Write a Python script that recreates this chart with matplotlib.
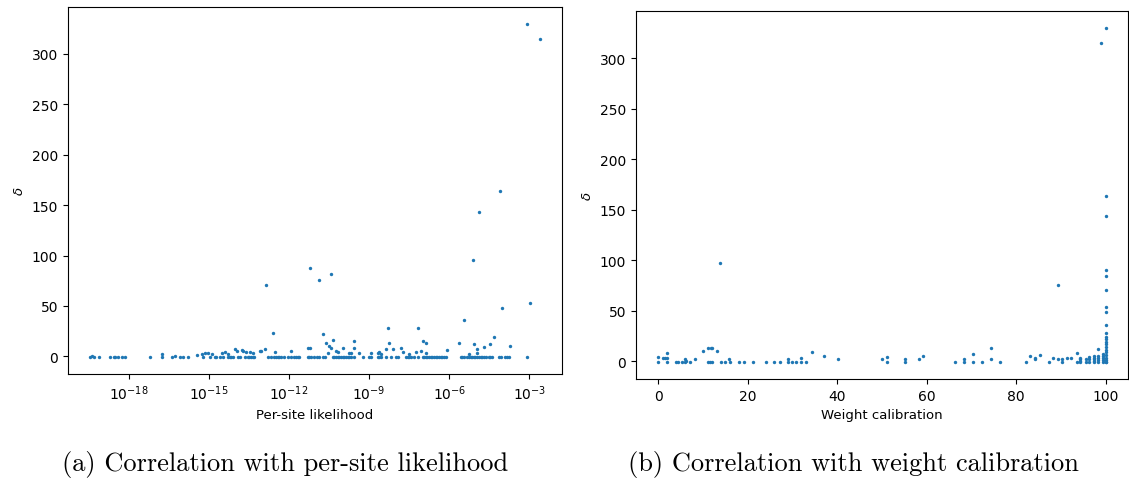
import numpy as np
import matplotlib
matplotlib.use("Agg")
import matplotlib.pyplot as plt

# ---------------- data ----------------
BASE = -1.0  # delta value of the points lying on the zero line

# (a) log10 per-site likelihood of points on the zero line
a_zero_loglik = [-19.44, -19.32, -19.13, -18.70, -18.57, -18.51, -18.39, -18.26, -18.14,
                 -17.2, -16.77, -16.4, -16.09, -15.96, -15.77, -15.21, -14.96, -14.78,
                 -14.72, -14.59, -14.47, -14.28, -14.22, -14.16, -14.09, -13.91, -13.85,
                 -13.66, -13.55, -13.49, -13.43, -13.36, -13.3, -12.8, -12.68, -12.55,
                 -12.5, -12.43, -12.37, -12.3, -12.18, -12.05, -11.93, -11.8, -11.74,
                 -11.68, -11.62, -11.31, -11.25, -11.18, -11.06, -10.94, -10.87, -10.74,
                 -10.67, -10.36, -10.30, -10.24, -10.18, -10.12, -10.05, -9.99, -9.93,
                 -9.87, -9.8, -9.74, -9.68, -9.56, -9.24, -8.99, -8.93, -8.68, -8.62,
                 -8.56, -8.37, -8.19, -8.0, -7.94, -7.63, -7.56, -7.5, -7.44, -7.32,
                 -7.19, -7.0, -6.94, -6.88, -6.82, -6.76, -6.70, -6.63, -6.57, -6.51,
                 -6.45, -6.38, -6.32, -6.26, -6.2, -6.13, -5.57, -5.51, -5.45, -5.33,
                 -5.26, -5.2, -5.14, -5.08, -5.02, -4.95, -4.89, -4.83, -4.77, -4.7,
                 -4.64, -4.52, -4.46, -4.39, -4.15, -4.08, -3.9, -3.83, -3.77, -3.09]

# (a) remaining points: log10 per-site likelihood and delta
a_loglik = [-19.38, -16.77, -16.27, -15.46, -15.28, -15.15, -15.03, -14.9, -14.53, -14.4,
            -14.28, -14.03, -13.97, -13.78, -13.72, -13.6, -13.47, -13.35, -13.1, -13.04,
            -12.91, -12.86, -12.6, -12.54, -11.92, -11.3, -11.23, -11.22, -10.88, -10.44,
            -10.74, -10.61, -10.55, -10.49, -10.43, -10.36, -10.24, -10.18, -9.99, -9.74,
            -9.68, -9.58, -9.58, -9.37, -8.93, -8.68, -8.62, -8.56, -8.37, -8.29,
            -8.25, -8.12, -7.81, -7.75, -7.5, -7.25, -7.17, -7.07, -6.97, -6.88,
            -6.88, -6.07, -5.64, -5.45, -5.26, -5.12, -5.08, -4.95, -4.95, -4.88,
            -4.7, -4.48, -4.33, -4.11, -4.02, -3.73, -3.1, -2.99, -2.62]
a_delta = [0.5, 2, 0.5, 1, 2, 3, 3, 2, 3, 4.3,
           2, 7, 5.3, 6.3, 5.3, 4.3, 4.3, 3, 5.3, 5.3,
           7, 71, 23.5, 4.3, 5.3, 8.6, 8.6, 88, 75.5, 82,
           22.5, 13.5, 3.6, 10.2, 8.6, 16.5, 5.3, 4.3, 8.6, 3.6,
           3, 14.8, 8.6, 3.6, 3, 3, 4.3, 2, 6.9, 28.4,
           13.5, 7.6, 8.6, 4.3, 2, 4.3, 28.4, 5.3, 14.8, 13.5,
           3.6, 5.9, 13.5, 36, 2, 96, 11.9, 6.9, 3.6, 143,
           9.6, 12.6, 19.4, 164, 48, 10.2, 330, 53, 315]

# (b) weight calibration of points on the zero line
b_zero_weight = [0, 2, 4, 4.5, 5.3, 5.9, 7, 11, 11.6, 12, 14, 15, 16, 18, 19.2, 21.1, 24,
                 25.9, 27.1, 29, 29.9, 30.8, 31.9, 33, 51.2, 55.1, 66.3, 68.3, 70.4, 72.3,
                 76.3, 82.3, 87.3, 90.3, 93.5, 94.3, 95.5, 96.3, 97.4, 98.3, 99.3, 100]

# (b) remaining points: weight calibration and delta
b_weight = [0, 1, 1.4, 2, 2, 5.9, 6.2, 8.1, 10, 11, 11.7, 12.1, 13.1, 13.8, 15.9, 29,
            31.9, 34.3, 37.1, 40.2, 50.1, 51.2, 55.1, 58.3, 59.2, 68.3, 70.4, 74.3, 74.3,
            83.2, 84.3, 84.3, 85.3, 88.2, 89.4, 89.4, 90.3, 91.4, 92.3, 93.5, 94.3, 94.3,
            94.3, 95.5, 96.3, 96.3, 97.4, 97.4, 97.4, 97.4, 98.3, 98.3, 98.3, 98.3, 99,
            99.3, 99.3, 99.3, 99.3,
            100, 100, 100, 100, 100, 100, 100, 100, 100, 100, 100, 100, 100, 100, 100,
            100, 100, 100, 100, 100, 100]
b_delta = [4.6, 3.6, 3.6, 8.6, 3.6, 2.6, 0.6, 2, 10.2, 13.5, 13.5, 13.5, 10.2, 97, 2, 2.6,
           3.6, 9.6, 5.3, 2, 2, 4.6, 2, 1.8, 5.3, 1.8, 7.6, 13.5, 2,
           5.3, 3, 2, 6.3, 3.6, 1.8, 75.5, 2.6, 3.6, 3.6, 7.9, 3.6, 2,
           0.6, 2.6, 4.6, 2, 5.3, 3.6, 2, 0.6, 11.9, 5.3, 3, 1, 315,
           7, 5, 3, 1,
           330, 164, 144, 90, 84, 71, 54, 49, 36, 28, 24, 22, 19, 17, 14,
           11, 9, 6, 3, 1, -1]

a_xticks = [1e-18, 1e-15, 1e-12, 1e-9, 1e-6, 1e-3]
y_ticks = [0, 50, 100, 150, 200, 250, 300]

# ---------------- plot ----------------
W, H = 1129, 481
fig = plt.figure(figsize=(W / 100, H / 100), dpi=100)
color = "#1f77b4"

ax1 = fig.add_axes([68 / W, 1 - 375 / H, (562 - 68) / W, (375 - 8) / H])
x1 = np.concatenate([10.0 ** np.array(a_zero_loglik), 10.0 ** np.array(a_loglik)])
y1 = np.concatenate([np.full(len(a_zero_loglik), BASE), np.array(a_delta)])
ax1.scatter(x1, y1, s=6, c=color, linewidths=0)
ax1.set_xscale("log")
ax1.set_xticks(a_xticks)
ax1.xaxis.set_minor_locator(matplotlib.ticker.NullLocator())
ax1.set_yticks(y_ticks)
ax1.set_xlabel("Per-site likelihood", fontsize=9.5)
ax1.set_ylabel(r"$\delta$", fontsize=9.5)
ax1.tick_params(labelsize=10)

ax2 = fig.add_axes([636 / W, 1 - 380 / H, (1128 - 636) / W, (380 - 12) / H])
x2 = np.concatenate([np.array(b_zero_weight), np.array(b_weight)])
y2 = np.concatenate([np.full(len(b_zero_weight), BASE), np.array(b_delta)])
ax2.scatter(x2, y2, s=6, c=color, linewidths=0)
ax2.set_yticks(y_ticks)
ax2.set_xlabel("Weight calibration", fontsize=9.5)
ax2.set_ylabel(r"$\delta$", fontsize=9.5)
ax2.tick_params(labelsize=10)

fig.text(285 / W, 1 - 464 / H, "(a) Correlation with per-site likelihood",
         family="cmr10", fontsize=19, ha="center", va="center")
fig.text(853 / W, 1 - 464 / H, "(b) Correlation with weight calibration",
         family="cmr10", fontsize=19, ha="center", va="center")

fig.savefig("out.png", dpi=100)
